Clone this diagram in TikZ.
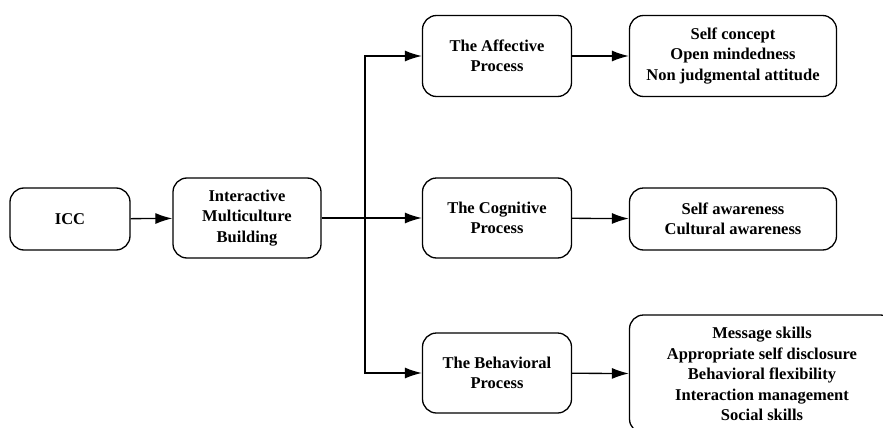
\documentclass[tikz,border=0pt]{standalone}
\usepackage{fontspec}
\setmainfont{Liberation Serif}
\usetikzlibrary{arrows.meta}

\begin{document}
\begin{tikzpicture}[x=1pt,y=-1pt,line width=1.3pt,
	box/.style={draw,rounded corners=14pt,align=center,inner sep=0pt,
		font=\bfseries\fontsize{16.5}{20.5}\selectfont},
	flow/.style={-{Latex[length=17pt,width=11pt]}}]
	\useasboundingbox (0,0) rectangle (883,428);
	\node[box,minimum width=120pt,minimum height=62pt] at (70,219) (icc) {ICC};
	\node[box,minimum width=148pt,minimum height=80pt] at (247,218) (imb) {Interactive\\Multiculture\\Building};
	\node[box,minimum width=149pt,minimum height=81pt] at (497,56) (aff) {The Affective\\Process};
	\node[box,minimum width=149pt,minimum height=80pt] at (497,218) (cog) {The Cognitive\\Process};
	\node[box,minimum width=149pt,minimum height=80pt] at (497,373) (beh) {The Behavioral\\Process};
	\node[box,minimum width=207pt,minimum height=81pt] at (733,56) (affout) {Self concept\\Open mindedness\\Non judgmental attitude};
	\node[box,minimum width=207pt,minimum height=62pt] at (733,219) (cogout) {Self awareness\\Cultural awareness};
	\node[box,minimum width=265pt,minimum height=118pt] at (762,374) (behout) {Message skills\\Appropriate self disclosure\\Behavioral flexibility\\Interaction management\\Social skills};
	\coordinate (split) at (365,218);
	\draw[flow] (icc) to (imb);
	\draw[flow] (imb) to (cog);
	\draw[flow] (split) |- (aff.west);
	\draw[flow] (split) |- (beh.west);
	\draw[flow] (aff) to (affout);
	\draw[flow] (cog) to (cogout);
	\draw[flow] (beh) to (behout);
\end{tikzpicture}
\end{document}
